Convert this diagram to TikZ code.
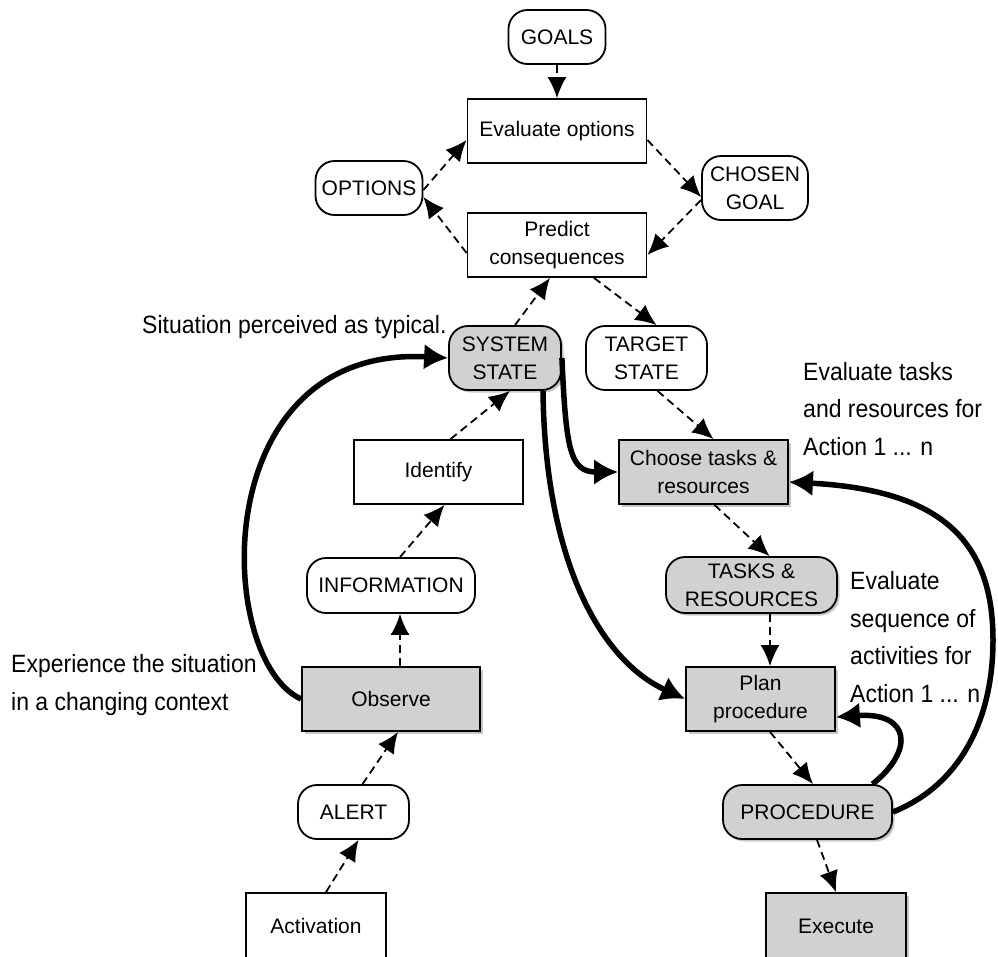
\documentclass[tikz,border=0pt]{standalone}
\usepackage{fontspec}
\setmainfont{Liberation Sans}
\newfontfamily\notefont[FakeStretch=0.92]{Liberation Sans}
\usepackage{tikz}
\usetikzlibrary{shapes,arrows,arrows.meta,shadows}
\definecolor{boxgray}{gray}{0.82}

\begin{document}
\begin{tikzpicture}[x=1pt,y=-1pt,auto]
    \tikzstyle{block} = [draw, shape=rectangle, minimum height=64pt, minimum width=170pt, line width=1.8pt, align=center, inner sep=2pt, font=\fontsize{21}{28}\selectfont]
    \tikzstyle{state} = [block, rounded corners=19pt, minimum height=54pt]
    \tikzstyle{grayed} = [fill=boxgray, drop shadow={shadow xshift=2.5pt, shadow yshift=-2.5pt, fill=black!22, opacity=1}]
    \tikzstyle{flow} = [-{Latex[length=21pt,width=19pt]}, line width=1.8pt, dash pattern=on 8pt off 5pt]
    \tikzstyle{bigflow} = [-{Latex[length=24pt,width=26pt]}, line width=5.5pt]
    \tikzstyle{note} = [align=left, inner sep=0pt, anchor=base west, font=\fontsize{25}{37.5}\selectfont\notefont]
    \useasboundingbox (0,0) rectangle (998,956);
    \clip (0,0) rectangle (998,956);
    %Creating Blocks
    \node [state, minimum width=97pt] (goals) at (557,37) {GOALS};
    \node [block, minimum width=179pt] (evalopt) at (557,131) {Evaluate options};
    \node [state, minimum width=107pt] (options) at (369,188) {OPTIONS};
    \node [state, minimum width=106pt, minimum height=64pt] (chosen) at (755,188) {CHOSEN\\GOAL};
    \node [block, minimum width=179pt] (predict) at (557,245) {Predict\\consequences};
    \node [state, grayed, minimum width=112pt, minimum height=64pt] (sysstate) at (505,358) {SYSTEM\\STATE};
    \node [state, minimum width=121pt, minimum height=64pt] (target) at (646.5,358) {TARGET\\STATE};
    \node [block, minimum width=169pt] (identify) at (438.5,472) {Identify};
    \node [block, grayed, minimum width=169pt] (choose) at (703.5,472) {Choose tasks \&\\resources};
    \node [state, minimum width=168pt, minimum height=55pt] (information) at (391,585.5) {INFORMATION};
    \node [state, grayed, minimum width=171pt, minimum height=56pt] (tasks) at (751.5,585) {TASKS \&\\RESOURCES};
    \node [block, grayed, minimum width=178pt] (observe) at (391,699) {Observe};
    \node [block, grayed, minimum width=149pt] (plan) at (760.5,699) {Plan\\procedure};
    \node [state, minimum width=111pt] (alert) at (353.5,812) {ALERT};
    \node [state, grayed, minimum width=169pt] (procedure) at (807.5,812) {PROCEDURE};
    \node [block, minimum width=140pt, minimum height=66pt] (activation) at (316,926) {Activation};
    \node [block, grayed, minimum width=140pt, minimum height=66pt] (execute) at (836,926) {Execute};
    %Notes (placed at the baseline of their last line)
    \node [note] (typical) at (142,333) {Situation perceived as typical.};
    \node [note] (experience) at (11,710) {Experience the situation\\in a changing context};
    \node [note] (evaltasks) at (803,455) {Evaluate tasks\\and resources for\\Action 1 ... n};
    \node [note] (evalseq) at (850,702) {Evaluate\\sequence of\\activities for\\Action 1 ... n};
    %Conecting Blocks
    \draw [flow] (goals.south) -- (evalopt.north);
    \draw [flow] ([yshift=-2pt]options.east) -- ([yshift=-9pt]evalopt.west);
    \draw [flow] ([yshift=-8pt]predict.west) -- ([yshift=-9pt]options.east);
    \draw [flow] ([yshift=-9pt]evalopt.east) -- ([yshift=-9pt]chosen.west);
    \draw [flow] ([yshift=-12pt]chosen.west) -- ([yshift=-10pt]predict.east);
    \draw [flow] ([xshift=10pt]sysstate.north) -- ([xshift=-7pt]predict.south);
    \draw [flow] ([xshift=37pt]predict.south) -- ([xshift=10pt]target.north);
    \draw [flow] ([xshift=11pt]target.south) -- ([xshift=10pt]choose.north);
    \draw [flow] ([xshift=12pt]identify.north) -- ([xshift=5pt]sysstate.south);
    \draw [flow] ([xshift=9pt]information.north) -- ([xshift=6pt]identify.south);
    \draw [flow] ([xshift=9pt]observe.north) -- ([xshift=9pt]information.south);
    \draw [flow] ([xshift=9pt]alert.north) -- ([xshift=7pt]observe.south);
    \draw [flow] ([xshift=10pt]activation.north) -- ([xshift=5pt]alert.south);
    \draw [flow] ([xshift=11pt]choose.south) -- ([xshift=18pt]tasks.north);
    \draw [flow] ([xshift=18.5pt]tasks.south) -- ([xshift=9.5pt]plan.north);
    \draw [flow] ([xshift=9.5pt]plan.south) -- ([xshift=5.5pt]procedure.north);
    \draw [flow] ([xshift=9.5pt]procedure.south) -- (execute.north);
    \begin{scope}[line join=round]
        \draw [bigflow] (observe.west) .. controls (215,660) and (205,345) .. (sysstate.west);
        \draw [bigflow] (sysstate.east) .. controls (566,450) and (570,472) .. (choose.west);
        \draw [bigflow] ([xshift=38pt]sysstate.south) .. controls (545,560) and (600,660) .. (plan.west);
        \draw [bigflow] (procedure.east) .. controls (960,785) and (993,720) .. (993,640)
            .. controls (993,540) and (940,490) .. ([yshift=-10pt]choose.east);
        \draw [bigflow] ([xshift=65pt]procedure.north) .. controls (915,750) and (910,712) .. ([yshift=-18pt]plan.east);
    \end{scope}
\end{tikzpicture}
\end{document}
